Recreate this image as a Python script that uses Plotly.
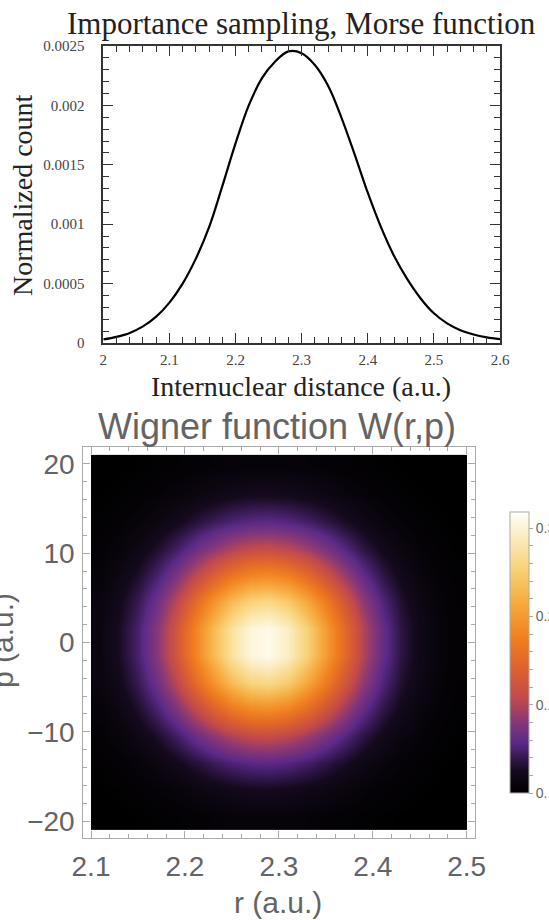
import plotly.graph_objects as go

W, H = 549, 920

# ---------------- Top panel data ----------------
r_dist = [2.00, 2.02, 2.04, 2.06, 2.08, 2.10, 2.12, 2.14, 2.16, 2.18, 2.20,
          2.22, 2.24, 2.26, 2.28, 2.30, 2.32, 2.34, 2.36, 2.38, 2.40,
          2.42, 2.44, 2.46, 2.48, 2.50, 2.52, 2.54, 2.56, 2.58, 2.60]
counts = [0.000030, 0.000052, 0.000085, 0.000140, 0.000222, 0.000340, 0.000500,
          0.000710, 0.000975, 0.001320, 0.001680, 0.002000, 0.002230, 0.002370,
          0.002455, 0.002440, 0.002340, 0.002165, 0.001900, 0.001590, 0.001265,
          0.000975, 0.000730, 0.000535, 0.000375, 0.000250, 0.000165, 0.000108,
          0.000072, 0.000048, 0.000032]
top_xticks = [2.0, 2.1, 2.2, 2.3, 2.4, 2.5, 2.6]
top_xticklabels = ["2", "2.1", "2.2", "2.3", "2.4", "2.5", "2.6"]
top_yticks = [0, 0.0005, 0.001, 0.0015, 0.002, 0.0025]
top_yticklabels = ["0", "0.0005", "0.001", "0.0015", "0.002", "0.0025"]

# ---------------- Bottom panel data ----------------
r_grid = [2.11, 2.13, 2.15, 2.17, 2.19, 2.21, 2.23, 2.25, 2.27, 2.29,
          2.31, 2.33, 2.35, 2.37, 2.39, 2.41, 2.43, 2.45, 2.47, 2.49]
r_profile = [0.044, 0.086, 0.156, 0.259, 0.398, 0.563, 0.734, 0.883, 0.977, 0.998,
             0.938, 0.813, 0.650, 0.478, 0.325, 0.203, 0.117, 0.062, 0.030, 0.014]
p_grid = [-19.5, -16.5, -13.5, -10.5, -7.5, -4.5, -1.5,
          1.5, 4.5, 7.5, 10.5, 13.5, 16.5, 19.5]
p_profile = [0.028, 0.078, 0.181, 0.356, 0.590, 0.827, 0.979,
             0.979, 0.827, 0.590, 0.356, 0.181, 0.078, 0.028]
w_max = 0.3183
bot_xticks = [2.1, 2.2, 2.3, 2.4, 2.5]
bot_yticks = [-20, -10, 0, 10, 20]
bot_yticklabels = ["\u221220", "\u221210", "0", "10", "20"]
cb_ticks = [round(0.02 * k, 2) for k in range(16)]
cb_labels = {0.0: "0.", 0.1: "0.1", 0.2: "0.2", 0.3: "0.3"}

z = [[w_max * fp * fr for fr in r_profile] for fp in p_profile]

sunset = [
    [0.00, "#000000"],
    [0.08, "#150a1e"],
    [0.18, "#5b2a88"],
    [0.26, "#8a3877"],
    [0.34, "#c24a4c"],
    [0.45, "#e0632c"],
    [0.55, "#f07f1f"],
    [0.67, "#f6a83c"],
    [0.80, "#f8d378"],
    [0.90, "#fbeab8"],
    [1.00, "#fffff8"],
]

def px_x(v):
    return v / W

def px_y(v):
    return 1 - v / H

fig = go.Figure()

fig.add_trace(go.Scatter(
    x=r_dist, y=counts, mode="lines",
    line=dict(color="black", width=2.2, shape="spline", smoothing=1.0),
    xaxis="x", yaxis="y", showlegend=False, hoverinfo="skip"))

fig.add_trace(go.Heatmap(
    x=r_grid, y=p_grid, z=z, zsmooth="best", colorscale=sunset, zmin=0, zmax=w_max,
    xaxis="x2", yaxis="y2", hoverinfo="skip",
    colorbar=dict(
        x=px_x(510), xanchor="left", y=px_y(652.5), yanchor="middle",
        lenmode="pixels", len=281, thicknessmode="pixels", thickness=19,
        outlinewidth=1, outlinecolor="#aaaaaa",
        tickmode="array", tickvals=cb_ticks,
        ticktext=[cb_labels.get(t, "") for t in cb_ticks],
        ticks="outside", ticklen=4, tickcolor="#aaaaaa", tickwidth=1,
        tickfont=dict(family="Liberation Sans", size=14, color="#666666"),
        xpad=0, ypad=0,
    ),
))

serif = "Liberation Serif"
sans = "Liberation Sans"
top_line = "#333333"
gray = "#aaaaaa"

layout = dict(
    width=W, height=H, margin=dict(l=0, r=0, t=0, b=0, autoexpand=False),
    paper_bgcolor="white", plot_bgcolor="white",
    xaxis=dict(
        domain=[px_x(103.3), px_x(500)], range=[2.0, 2.6], anchor="y",
        showline=True, linecolor=top_line, linewidth=1.5, mirror="ticks",
        ticks="inside", ticklen=10, tickwidth=1.4, tickcolor=top_line,
        tickvals=top_xticks, ticktext=top_xticklabels,
        minor=dict(dtick=0.02, tick0=2.0, ticklen=6, tickwidth=1.2,
                   tickcolor=top_line, ticks="inside"),
        showgrid=False, zeroline=False,
        tickfont=dict(family=serif, size=15, color="#444444"),
        ticklabelstandoff=2,
    ),
    yaxis=dict(
        domain=[px_y(343), px_y(46)], range=[0, 0.0025], anchor="x",
        showline=True, linecolor=top_line, linewidth=1.5, mirror="ticks",
        ticks="inside", ticklen=10, tickwidth=1.4, tickcolor=top_line,
        tickvals=top_yticks, ticktext=top_yticklabels,
        minor=dict(dtick=0.0001, tick0=0, ticklen=6, tickwidth=1.2,
                   tickcolor=top_line, ticks="inside"),
        showgrid=False, zeroline=False,
        tickfont=dict(family=serif, size=15, color="#444444"),
        ticklabelstandoff=14,
    ),
    xaxis2=dict(
        domain=[px_x(83.3), px_x(475)], range=[2.0918, 2.5088], anchor="y2",
        showline=True, linecolor=gray, linewidth=1, mirror="ticks",
        ticks="inside", ticklen=7, tickwidth=1, tickcolor=gray,
        tickvals=bot_xticks, ticktext=["2.1", "2.2", "2.3", "2.4", "2.5"],
        minor=dict(dtick=0.02, tick0=2.1, ticklen=4, tickwidth=1, tickcolor=gray, ticks="inside"),
        showgrid=False, zeroline=False,
        tickfont=dict(family=sans, size=28, color="#646464"),
        ticklabelstandoff=4,
    ),
    yaxis2=dict(
        domain=[px_y(837.7), px_y(447.3)], range=[-21.85, 21.85], anchor="x2",
        showline=True, linecolor=gray, linewidth=1, mirror="ticks",
        ticks="inside", ticklen=7, tickwidth=1, tickcolor=gray,
        tickvals=bot_yticks, ticktext=bot_yticklabels,
        minor=dict(dtick=2, tick0=0, ticklen=4, tickwidth=1, tickcolor=gray, ticks="inside"),
        showgrid=False, zeroline=False,
        tickfont=dict(family=sans, size=28, color="#646464"),
        ticklabelstandoff=2,
    ),
    annotations=[
        dict(text="Importance sampling, Morse function", x=px_x(301), y=px_y(24),
             xref="paper", yref="paper", xanchor="center", yanchor="middle",
             showarrow=False, font=dict(family=serif, size=31, color="#222222")),
        dict(text="Internuclear distance (a.u.)", x=px_x(301), y=px_y(386),
             xref="paper", yref="paper", xanchor="center", yanchor="middle",
             showarrow=False, font=dict(family=serif, size=28, color="#222222")),
        dict(text="Normalized count", x=px_x(23), y=px_y(195), textangle=-90,
             xref="paper", yref="paper", xanchor="center", yanchor="middle",
             showarrow=False, font=dict(family=serif, size=28, color="#222222")),
        dict(text="Wigner function W(r,p)", x=px_x(277), y=px_y(426),
             xref="paper", yref="paper", xanchor="center", yanchor="middle",
             showarrow=False, font=dict(family=sans, size=36, color="#646464")),
        dict(text="r (a.u.)", x=px_x(278), y=px_y(902),
             xref="paper", yref="paper", xanchor="center", yanchor="middle",
             showarrow=False, font=dict(family=sans, size=30, color="#646464")),
        dict(text="p (a.u.)", x=px_x(2), y=px_y(641), textangle=-90,
             xref="paper", yref="paper", xanchor="center", yanchor="middle",
             showarrow=False, font=dict(family=sans, size=30, color="#646464")),
    ],
)
fig.update_layout(**layout)

fig.write_html("out.html")
